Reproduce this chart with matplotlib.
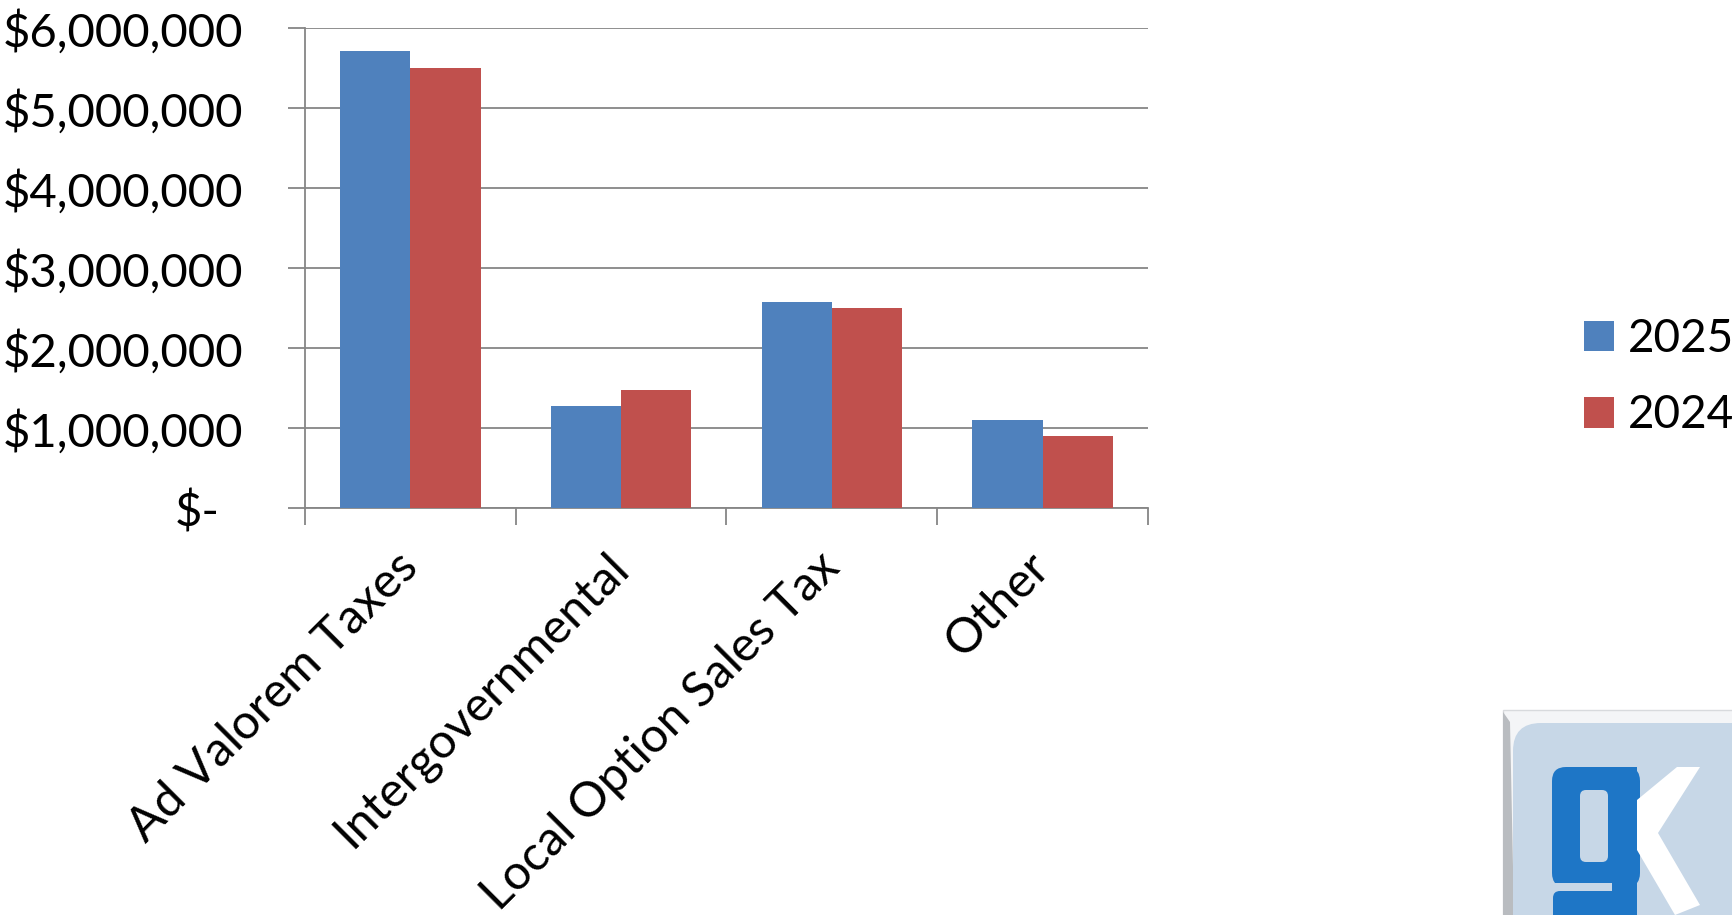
import matplotlib
matplotlib.use("Agg")
import matplotlib.pyplot as plt
import matplotlib.transforms as mtrans
import numpy as np
from matplotlib.patches import FancyBboxPatch, Polygon, Rectangle
from matplotlib.ticker import FuncFormatter, FixedLocator

plt.rcParams['font.family'] = ['Lato', 'DejaVu Sans']

categories = ["Ad Valorem Taxes", "Intergovernmental", "Local Option Sales Tax", "Other"]
series_names = ["2025", "2024"]
values_2025 = [5710000, 1280000, 2570000, 1100000]
values_2024 = [5500000, 1480000, 2500000, 900000]
y_ticks = [0, 1000000, 2000000, 3000000, 4000000, 5000000, 6000000]

BLUE = "#4f81bd"
RED = "#c0504d"
GRID = "#868686"

W, H = 1733, 915
fig = plt.figure(figsize=(W / 100, H / 100), dpi=100)
fig.patch.set_facecolor("white")

ax = fig.add_axes([305 / W, 1 - 508 / H, (1148 - 305) / W, (508 - 28) / H])

x = np.arange(len(categories))
bw = 1 / 3
b1 = ax.bar(x - bw / 2, values_2025, width=bw, color=BLUE, label=series_names[0], zorder=3)
b2 = ax.bar(x + bw / 2, values_2024, width=bw, color=RED, label=series_names[1], zorder=3)

ax.set_xlim(-0.5, len(categories) - 0.5)
ax.set_ylim(0, 6000000)

ax.yaxis.set_major_locator(FixedLocator(y_ticks))


def money(v, pos):
    if v == 0:
        return "$-"
    return "${:,.0f}".format(v)


ax.yaxis.set_major_formatter(FuncFormatter(money))
ax.grid(axis="y", color=GRID, linewidth=1.3, zorder=0)
ax.set_axisbelow(True)

for s in ["top", "right"]:
    ax.spines[s].set_visible(False)
for s in ["left", "bottom"]:
    ax.spines[s].set_color(GRID)
    ax.spines[s].set_linewidth(1.3)

tick_len = 12.2
ax.tick_params(axis="y", length=tick_len, width=1.3, color=GRID, labelsize=34, pad=32)
ax.set_xticks(x)
ax.set_xticks(np.arange(-0.5, len(categories), 1.0), minor=True)
ax.tick_params(axis="x", which="major", length=0, labelsize=35, pad=37)
ax.tick_params(axis="x", which="minor", length=tick_len, width=1.3, color=GRID)
ax.set_xticklabels(categories, rotation=45, ha="right", va="center", rotation_mode="anchor")

# the zero label sits a bit further left, as in accounting format
for lbl in ax.get_yticklabels():
    if lbl.get_text() == "$-":
        lbl.set_transform(lbl.get_transform() + mtrans.ScaledTranslation(-24 / 100, 0, fig.dpi_scale_trans))

leg = fig.legend(handles=[b1, b2], loc="upper left", bbox_to_anchor=(1584 / W, 1 - 318 / H),
                 frameon=False, fontsize=33, handlelength=0.65, handleheight=0.65,
                 handletextpad=0.3, labelspacing=0.75, borderpad=0, borderaxespad=0)

# logo in the bottom-right corner, drawn in pixel space
LOGO_BG = "#c7d7e7"
lax = fig.add_axes([0, 0, 1, 1], zorder=-1)
lax.set_xlim(0, W)
lax.set_ylim(H, 0)
lax.axis("off")
lax.add_patch(Rectangle((1503, 710), 240, 220, facecolor="#f4f5f7", edgecolor="#d8dadd", linewidth=1))
lax.add_patch(Polygon([(1503, 712), (1510, 722), (1514, 915), (1503, 915)], closed=True,
                      facecolor="#b9bcc0", edgecolor="none"))
lax.add_patch(FancyBboxPatch((1513 + 28, 723 + 28), 260, 200, boxstyle="round,pad=28",
                             facecolor=LOGO_BG, edgecolor="none"))
G = "#1e76c6"
# bowl of the g
lax.add_patch(FancyBboxPatch((1566, 781), 60, 92, boxstyle="round,pad=14",
                             facecolor=G, edgecolor="none"))
lax.add_patch(FancyBboxPatch((1586, 796), 16, 60, boxstyle="round,pad=6",
                             facecolor=LOGO_BG, edgecolor="none"))
# stem and descender
lax.add_patch(Rectangle((1608, 767), 29, 150, facecolor=G, edgecolor="none"))
lax.add_patch(Rectangle((1552, 883), 60, 9, facecolor=LOGO_BG, edgecolor="none"))
lax.add_patch(FancyBboxPatch((1560, 898), 70, 30, boxstyle="round,pad=7",
                             facecolor=G, edgecolor="none"))
# chevron of the k
lax.add_patch(Polygon([(1637, 800), (1677, 767), (1700, 767), (1658, 833),
                       (1700, 905), (1675, 915), (1637, 850)], closed=True,
                      facecolor="white", edgecolor="none"))

fig.savefig("out.png", dpi=100, facecolor="white")
